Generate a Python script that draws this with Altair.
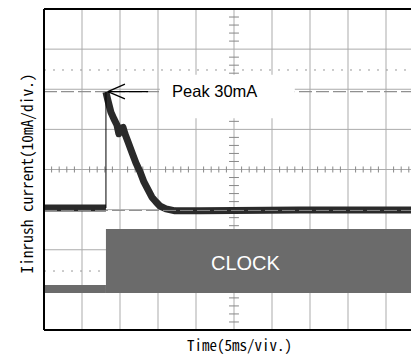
import altair as alt
import pandas as pd

# ---- data (x in divisions of 5 ms, y in divisions of 10 mA) ----
base_x = [0.0, 1.63]
base_y = [3.04, 3.04]

decay_x = [1.63, 1.68, 1.76, 1.84, 1.92, 1.97, 2.03, 2.08, 2.13, 2.21, 2.32, 2.42,
           2.53, 2.63, 2.74, 2.84, 2.95, 3.05, 3.21, 3.45, 4.11, 6.74, 10.0]
decay_y = [5.93, 5.73, 5.43, 5.26, 5.11, 4.89, 5.03, 5.05, 4.89, 4.69, 4.41, 4.16,
           3.94, 3.69, 3.49, 3.31, 3.19, 3.09, 3.02, 2.97, 2.97, 2.99, 2.99]

clock_x0 = [0.0, 1.63]
clock_x1 = [1.63, 10.0]
clock_lo = [0.92, 0.92]
clock_hi = [1.12, 2.52]

peak_level = 5.94
base_level = 2.98
dotted_levels = [6.48, 1.47]

grid_x = [1, 2, 3, 4, 5, 6, 7, 8, 9]
grid_y = [1, 2, 3, 4, 5, 6, 7]

W, H = 367, 321
XMAX = W / 38.0

xs = alt.Scale(domain=[0, XMAX], nice=False, zero=False)
ys = alt.Scale(domain=[0, 8], nice=False, zero=False)

def X(f, **kw):
    return alt.X(f, type="quantitative", scale=xs, **kw)

def Y(f, **kw):
    return alt.Y(f, type="quantitative", scale=ys, **kw)

TFONT = "Noto Sans Mono CJK JP, Noto Sans CJK JP, DejaVu Sans Mono"

xaxis = alt.Axis(title="Time(5ms/viv.)", labels=False, ticks=False, domain=False, grid=False,
                 titleFont=TFONT, titleFontSize=15, titleFontWeight="normal",
                 titleColor="black", titleX=195, titleY=20, titleAlign="center",
                 titleBaseline="alphabetic")
yaxis = alt.Axis(title="Iinrush current(10mA/div.)", labels=False, ticks=False, domain=False,
                 grid=False, titleFont=TFONT, titleFontSize=15.4,
                 titleFontWeight="normal", titleColor="black", titleX=-12, titleY=164,
                 titleAngle=270, titleBaseline="alphabetic", titleAlign="center")

gx = pd.DataFrame({"x": grid_x})
gy = pd.DataFrame({"y": grid_y})

vgrid = alt.Chart(gx).mark_rule(color="#ababab", strokeWidth=1).encode(
    x=X("x", axis=xaxis), y=alt.datum(0, scale=ys, axis=yaxis), y2=alt.datum(8))
hgrid = alt.Chart(gy).mark_rule(color="#ababab", strokeWidth=1).encode(
    y=Y("y"), x=alt.datum(0, scale=xs), x2=alt.datum(XMAX))

dots = alt.Chart(pd.DataFrame({"y": dotted_levels})).mark_rule(
    color="#999999", strokeWidth=1, strokeDash=[2, 7]).encode(
    y=Y("y"), x=alt.datum(0, scale=xs), x2=alt.datum(XMAX))

# minor ticks on centre axes
ty = [round(0.2 * i, 2) for i in range(1, 40) if i % 5]
tx = [round(0.2 * i, 2) for i in range(1, 50) if i % 5]
vt = alt.Chart(pd.DataFrame({"y": ty, "a": [4.87] * len(ty), "b": [5.13] * len(ty)})).mark_rule(
    color="#888888", strokeWidth=1).encode(y=Y("y"), x=X("a"), x2="b")
ht = alt.Chart(pd.DataFrame({"x": tx, "a": [3.925] * len(tx), "b": [4.075] * len(tx)})).mark_rule(
    color="#888888", strokeWidth=1).encode(x=X("x"), y=Y("a"), y2="b")

peakdash = alt.Chart(pd.DataFrame({"y": [peak_level]})).mark_rule(
    color="#909090", strokeWidth=1.2, strokeDash=[13, 4]).encode(
    y=Y("y"), x=alt.datum(0, scale=xs), x2=alt.datum(XMAX))

box = alt.Chart(pd.DataFrame({"x": [3.05], "x2": [6.6], "y": [5.28], "y2": [6.36]})).mark_rect(
    color="white").encode(x=X("x"), x2="x2", y=Y("y"), y2="y2")

clock = alt.Chart(pd.DataFrame({"x": clock_x0, "x2": clock_x1, "y": clock_lo, "y2": clock_hi})).mark_rect(
    color="#6b6b6b").encode(x=X("x"), x2="x2", y=Y("y"), y2="y2")

tr = pd.DataFrame({
    "x": base_x + decay_x,
    "y": base_y + decay_y,
    "seg": ["a"] * len(base_x) + ["b"] * len(decay_x),
    "o": list(range(len(base_x) + len(decay_x))),
})
trace = alt.Chart(tr).mark_line(color="#2a2a2a", strokeWidth=7, strokeCap="butt",
                                strokeJoin="round").encode(
    x=X("x"), y=Y("y"), detail="seg:N", order="o:Q")

edge = alt.Chart(pd.DataFrame({"x": [1.63], "y": [3.04], "y2": [5.93]})).mark_rule(
    color="black", strokeWidth=1).encode(x=X("x"), y=Y("y"), y2="y2")

basedash = alt.Chart(pd.DataFrame({"y": [base_level]})).mark_rule(
    color="#8a8a8a", strokeWidth=1, strokeDash=[13, 4]).encode(
    y=Y("y"), x=alt.datum(0, scale=xs), x2=alt.datum(XMAX))

arrow = alt.Chart(pd.DataFrame({
    "x": [1.68, 1.68, 1.68], "x2": [2.74, 2.13, 2.13],
    "y": [5.94, 5.94, 5.94], "y2": [5.94, 6.13, 5.76]})).mark_rule(
    color="black", strokeWidth=1.3).encode(x=X("x"), x2="x2", y=Y("y"), y2="y2")

peak_text = alt.Chart(pd.DataFrame({"x": [3.37], "y": [5.94], "t": ["Peak 30mA"]})).mark_text(
    align="left", baseline="middle", font="Liberation Sans", fontSize=16.5, color="black").encode(
    x=X("x"), y=Y("y"), text="t:N")

clock_text = alt.Chart(pd.DataFrame({"x": [5.3], "y": [1.65], "t": ["CLOCK"]})).mark_text(
    align="center", baseline="middle", font="Liberation Sans", fontSize=20, color="white").encode(
    x=X("x"), y=Y("y"), text="t:N")

border = alt.Chart(pd.DataFrame({
    "x": [0.0, 0.0, 0.0], "x2": [0.0, XMAX, XMAX],
    "y": [0.0, 8.0, 0.0], "y2": [8.0, 8.0, 0.0]})).mark_rule(
    color="black", strokeWidth=2).encode(x=X("x"), x2="x2", y=Y("y"), y2="y2")

chart = alt.layer(vgrid, hgrid, dots, vt, ht, peakdash, box, clock, trace, edge, basedash,
                  arrow, peak_text, clock_text, border).properties(
    width=W, height=H,
    autosize=alt.AutoSizeParams(type="none"),
    padding={"left": 36, "top": 1, "right": 0, "bottom": 26},
).configure_view(stroke=None)

chart.save("out.html", embed_options={"renderer": "svg", "actions": False})
